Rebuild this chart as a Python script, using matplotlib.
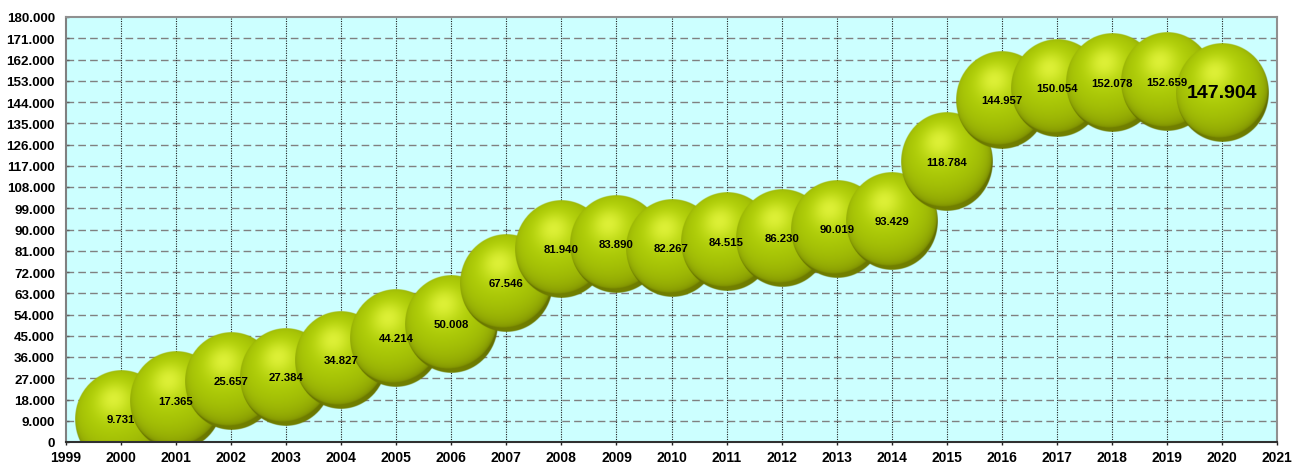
import numpy as np
import matplotlib
matplotlib.use('Agg')
import matplotlib.pyplot as plt

plt.rcParams['font.family'] = ['Liberation Sans', 'DejaVu Sans']

# data
years = [2000, 2001, 2002, 2003, 2004, 2005, 2006, 2007, 2008, 2009, 2010,
         2011, 2012, 2013, 2014, 2015, 2016, 2017, 2018, 2019, 2020]
values = [9731, 17365, 25657, 27384, 34827, 44214, 50008, 67546, 81940, 83890,
          82267, 84515, 86230, 90019, 93429, 118784, 144957, 150054, 152078,
          152659, 147904]
y_ticks = list(range(0, 180001, 9000))
x_ticks = list(range(1999, 2022))


def fmt(v):
    return f"{v:,}".replace(",", ".")


def sphere_image(res=220):
    # simple lit sphere, returns RGBA array
    u = np.linspace(-1, 1, res)
    U, V = np.meshgrid(u, -u)
    rho2 = U ** 2 + V ** 2
    rho = np.sqrt(rho2)
    W = np.sqrt(np.clip(1 - rho2, 0, 1))
    L = np.array([-0.17, 0.41, 0.9])
    L = L / np.linalg.norm(L)
    nl = np.clip(U * L[0] + V * L[1] + W * L[2], 0, 1)
    dark = np.array([98, 110, 0]) / 255
    body = np.array([178, 210, 8]) / 255
    hl = np.array([235, 250, 70]) / 255
    rim = np.array([150, 170, 0]) / 255
    shade = nl ** 0.38
    img = dark + (body - dark) * shade[..., None]
    spec = nl ** 14 * 0.75
    img = img + (hl - img) * spec[..., None]
    # faint reflected light at bottom edge
    B = np.array([0.1, -0.9, 0.25])
    B = B / np.linalg.norm(B)
    nb = np.clip(U * B[0] + V * B[1] + W * B[2], 0, 1) ** 3 * 0.3
    img = img + (rim - img) * nb[..., None]
    alpha = np.clip((1 - rho) * res / 2 + 0.5, 0, 1)
    return np.dstack([np.clip(img, 0, 1), alpha])


ball = sphere_image()

fig = plt.figure(figsize=(12.95, 4.64), dpi=100)
ax = fig.add_axes([66 / 1295, 1 - 443 / 464, 1211 / 1295, 425 / 464])
ax.set_facecolor('#ccffff')

# grid
for yt in y_ticks[1:-1]:
    ax.axhline(yt, color='#808080', lw=1.0, ls=(0, (5.5, 3)), zorder=0)
for xt in x_ticks[1:-1]:
    ax.axvline(xt, color='#202020', lw=0.8, ls=(0, (1, 1.2)), zorder=0)

# bubble size in pixels -> data units
px_x = 1211 / 22
px_y = 425 / 180000
bw = 92 / px_x
bh = 98 / px_y
for i, (x, y) in enumerate(zip(years, values)):
    ax.imshow(ball, extent=[x - bw / 2, x + bw / 2, y - bh / 2, y + bh / 2],
              aspect='auto', interpolation='bilinear', zorder=2 + i)
for i, (x, y) in enumerate(zip(years, values)):
    big = (i == len(years) - 1)
    ax.text(x, y, fmt(y), ha='center', va='center', fontweight='bold',
            fontsize=14 if big else 8.2, color='black', zorder=100)

ax.set_xlim(1999, 2021)
ax.set_ylim(0, 180000)
ax.set_xticks(x_ticks)
ax.set_xticklabels([str(v) for v in x_ticks], fontweight='bold', fontsize=10)
ax.set_yticks(y_ticks)
ax.set_yticklabels([fmt(v) for v in y_ticks], fontweight='bold', fontsize=9.6)
ax.tick_params(axis='x', direction='out', length=2.5, width=1,
               color='#202020', pad=3.5)
ax.tick_params(axis='y', direction='in', length=2.5, width=1,
               color='#606060', pad=8)

for side in ['top', 'right']:
    ax.spines[side].set_color('#909090')
    ax.spines[side].set_linewidth(1.5)
ax.spines['left'].set_color('#808080')
ax.spines['left'].set_linewidth(1.5)
ax.spines['bottom'].set_color('#303030')
ax.spines['bottom'].set_linewidth(1.5)
for s in ax.spines.values():
    s.set_zorder(200)

fig.savefig('out.png', dpi=100)
